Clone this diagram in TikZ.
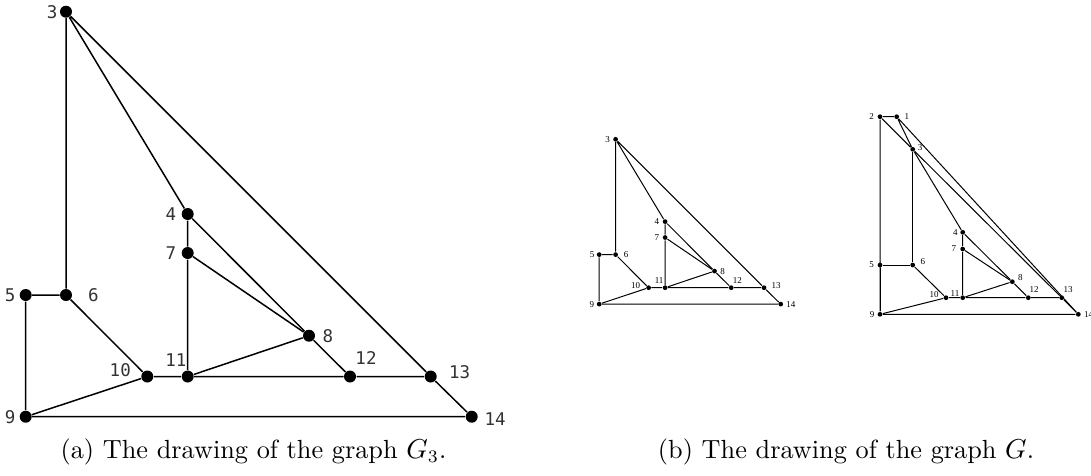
\documentclass[tikz,border=0pt]{standalone}
\usepackage{fontspec}
\usepackage{amsmath}
\newfontfamily\vlabelfont{DejaVu Sans Mono}
\newfontfamily\tinyserif{Liberation Serif}

\tikzset{
  bigdot/.style={circle, fill=black, inner sep=0pt, minimum size=4.8pt},
  smalldot/.style={circle, fill=black, inner sep=0pt, minimum size=1.9pt},
  biglbl/.style={font=\vlabelfont\fontsize{7}{8}\selectfont, inner sep=0pt, text=black!80},
  smalllbl/.style={font=\tinyserif\fontsize{3.6}{4}\selectfont, inner sep=0pt},
  capt/.style={font=\fontsize{10.5}{12}\selectfont, inner sep=0pt, anchor=base},
}

\begin{document}
\begin{tikzpicture}[x=0.4pt, y=-0.4pt]
    \useasboundingbox (0,0) rectangle (1091,475);

    % (a) the graph G_3
    \node[bigdot, label={[biglbl, label distance=0.6pt]left:3}] (l3) at (66,11.7) {};
    \node[bigdot, label={[biglbl, label distance=1.8pt]left:4}] (l4) at (187.7,214) {};
    \node[bigdot, label={[biglbl, label distance=1.8pt]left:7}] (l7) at (187.7,253) {};
    \node[bigdot, label={[biglbl, label distance=1.3pt]left:5}] (l5) at (25.7,295) {};
    \node[bigdot, label={[biglbl, label distance=6pt]right:6}] (l6) at (66,295) {};
    \node[bigdot, label={[biglbl, label distance=2.6pt]right:8}] (l8) at (309,335.7) {};
    \node[bigdot, label={[biglbl, label distance=3.8pt, yshift=2.4pt]left:10}] (l10) at (147.3,376.5) {};
    \node[bigdot, label={[biglbl, label distance=1.1pt, xshift=-4.7pt]above:11}] (l11) at (187.7,376.5) {};
    \node[bigdot, label={[biglbl, label distance=1.9pt, xshift=6.4pt]above:12}] (l12) at (350,376.5) {};
    \node[bigdot, label={[biglbl, label distance=4.6pt, yshift=1.9pt]right:13}] (l13) at (430.7,376.5) {};
    \node[bigdot, label={[biglbl, label distance=1.3pt]left:9}] (l9) at (25.7,416.7) {};
    \node[bigdot, label={[biglbl, label distance=2.4pt, yshift=-0.8pt]right:14}] (l14) at (471.7,416.7) {};
    \draw[line width=0.6pt] (l3) -- (l6) -- (l5) -- (l9) -- (l14) -- (l13) -- (l3) -- (l4) -- (l7) -- (l11);
    \draw[line width=0.6pt] (l4) -- (l8) -- (l12) -- (l13);
    \draw[line width=0.6pt] (l6) -- (l10) -- (l11) -- (l12);
    \draw[line width=0.6pt] (l7) -- (l8) -- (l11);
    \draw[line width=0.6pt] (l9) -- (l10);

    % (b) small copy of G_3
    \node[smalldot, label={[smalllbl, label distance=0.9pt]left:3}] (m3) at (615.6,139.3) {};
    \node[smalldot, label={[smalllbl, label distance=1pt]left:4}] (m4) at (665.1,221.6) {};
    \node[smalldot, label={[smalllbl, label distance=1pt]left:7}] (m7) at (665.1,237.5) {};
    \node[smalldot, label={[smalllbl, label distance=0.6pt]left:5}] (m5) at (599.2,254.6) {};
    \node[smalldot, label={[smalllbl, label distance=2pt]right:6}] (m6) at (615.6,254.6) {};
    \node[smalldot, label={[smalllbl, label distance=1pt]right:8}] (m8) at (714.5,271.1) {};
    \node[smalldot, label={[smalllbl, label distance=2pt, yshift=0.9pt]left:10}] (m10) at (648.6,287.7) {};
    \node[smalldot, label={[smalllbl, label distance=0.3pt, xshift=-2.4pt]above:11}] (m11) at (665.1,287.7) {};
    \node[smalldot, label={[smalllbl, label distance=0.4pt, xshift=2.5pt]above:12}] (m12) at (731.2,287.7) {};
    \node[smalldot, label={[smalllbl, label distance=1.7pt, yshift=0.8pt]right:13}] (m13) at (764,287.7) {};
    \node[smalldot, label={[smalllbl, label distance=0.7pt]left:9}] (m9) at (599.2,304.1) {};
    \node[smalldot, label={[smalllbl, label distance=0.9pt]right:14}] (m14) at (780.7,304.1) {};
    \draw[line width=0.4pt] (m3) -- (m6) -- (m5) -- (m9) -- (m14) -- (m13) -- (m3) -- (m4) -- (m7) -- (m11);
    \draw[line width=0.4pt] (m4) -- (m8) -- (m12) -- (m13);
    \draw[line width=0.4pt] (m6) -- (m10) -- (m11) -- (m12);
    \draw[line width=0.4pt] (m7) -- (m8) -- (m11);
    \draw[line width=0.4pt] (m9) -- (m10);

    % (b) the graph G
    \node[smalldot, label={[smalllbl, label distance=1.8pt]right:1}] (r1) at (896.7,116.7) {};
    \node[smalldot, label={[smalllbl, label distance=1.1pt]left:2}] (r2) at (880,116.7) {};
    \node[smalldot, label={[smalllbl, label distance=0.7pt, yshift=0.6pt]right:3}] (r3) at (912.7,149.3) {};
    \node[smalldot, label={[smalllbl, label distance=0.7pt]left:4}] (r4) at (962.7,232.3) {};
    \node[smalldot, label={[smalllbl, label distance=1.3pt]left:7}] (r7) at (962.7,249) {};
    \node[smalldot, label={[smalllbl, label distance=1.1pt]left:5}] (r5) at (880,265) {};
    \node[smalldot, label={[smalllbl, label distance=1.8pt, yshift=1.3pt]right:6}] (r6) at (912.7,265) {};
    \node[smalldot, label={[smalllbl, label distance=1pt, yshift=1.6pt]right:8}] (r8) at (1012.3,281.7) {};
    \node[smalldot, label={[smalllbl, label distance=1.6pt, yshift=1.1pt]left:10}] (r10) at (946,297.7) {};
    \node[smalldot, label={[smalllbl, label distance=0pt, yshift=1.8pt]left:11}] (r11) at (962.7,297.7) {};
    \node[smalldot, label={[smalllbl, label distance=0.8pt, xshift=2.3pt]above:12}] (r12) at (1028.3,297.7) {};
    \node[smalldot, label={[smalllbl, label distance=0.6pt, xshift=2.6pt]above:13}] (r13) at (1061.7,297.7) {};
    \node[smalldot, label={[smalllbl, label distance=0.9pt]left:9}] (r9) at (880,314.3) {};
    \node[smalldot, label={[smalllbl, label distance=1pt]right:14}] (r14) at (1078.3,314.3) {};
    \draw[line width=0.4pt] (r1) -- (r2) -- (r9) -- (r14) -- (r1) -- (r3) -- (r2);
    \draw[line width=0.4pt] (r3) -- (r6) -- (r5) -- (r9);
    \draw[line width=0.4pt] (r3) -- (r13) -- (r14);
    \draw[line width=0.4pt] (r3) -- (r4) -- (r7) -- (r11);
    \draw[line width=0.4pt] (r4) -- (r8) -- (r12) -- (r13);
    \draw[line width=0.4pt] (r6) -- (r10) -- (r11) -- (r12);
    \draw[line width=0.4pt] (r7) -- (r8) -- (r11);
    \draw[line width=0.4pt] (r9) -- (r10);

    % captions
    \node[capt] (capa) at (253.5,458.3) {(a) The drawing of the graph $G_3$.};
    \node[capt] (capb) at (846,458.3) {(b) The drawing of the graph $G$.};
\end{tikzpicture}
\end{document}
